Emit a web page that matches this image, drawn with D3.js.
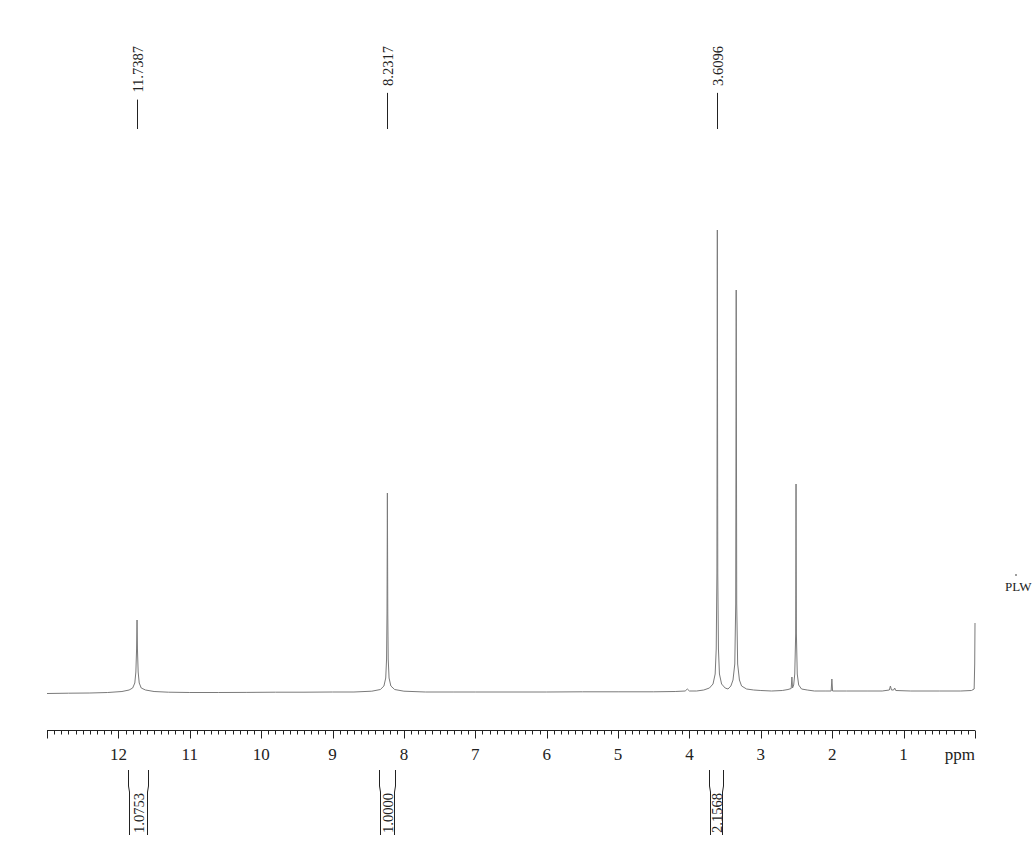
<!DOCTYPE html>
<html>
<head>
<meta charset="utf-8">
<script src="https://cdn.jsdelivr.net/npm/d3@7"></script>
<style>
  html, body { margin: 0; padding: 0; background: #fff; }
  svg { display: block; }
</style>
</head>
<body>
<div id="chart"></div>
<script>
// ---- data ----
const ppmDomain = [13, 0];
const majorTicks = [12, 11, 10, 9, 8, 7, 6, 5, 4, 3, 2, 1];
const axisUnit = "ppm";
const peakLabels = [11.7387, 8.2317, 3.6096];
const integralRegions = [[11.86, 11.59], [8.35, 8.13], [3.73, 3.53]];
const integralValues = ["1.0753", "1.0000", "2.1568"];
// spectrum trace: [ppm, intensity]
const spectrum = [
  [13.00, 0.5], [12.70, 0.8], [12.40, 1], [12.15, 1.5], [11.95, 2.5], [11.85, 4], [11.80, 6],
  [11.77, 11], [11.755, 22], [11.745, 45], [11.7387, 74], [11.733, 45], [11.723, 22], [11.708, 11],
  [11.68, 6], [11.62, 4], [11.50, 2.5], [11.30, 1.8], [11.00, 1.5], [10.60, 1.5], [10.20, 1.6],
  [9.80, 1.8], [9.40, 1.8], [9.00, 2], [8.70, 2], [8.45, 2.8], [8.33, 4.5], [8.28, 8], [8.255, 16],
  [8.243, 35], [8.237, 80], [8.2317, 201], [8.226, 80], [8.220, 35], [8.208, 16], [8.183, 8],
  [8.13, 4.5], [8.00, 2.8], [7.70, 2], [7.30, 2], [7.00, 2], [6.50, 2], [6.00, 2], [5.50, 2.2],
  [5.00, 2.2], [4.50, 2.2], [4.20, 2.5], [4.06, 3], [4.03, 5], [4.00, 3], [3.90, 3], [3.80, 4],
  [3.72, 6], [3.67, 10], [3.64, 20], [3.625, 45], [3.6155, 120], [3.6096, 464], [3.6035, 120],
  [3.594, 45], [3.58, 20], [3.55, 10], [3.50, 6], [3.46, 5], [3.42, 8], [3.39, 14], [3.365, 30],
  [3.352, 90], [3.345, 404], [3.338, 90], [3.325, 30], [3.30, 14], [3.27, 8], [3.20, 5],
  [3.10, 4], [3.00, 3.5], [2.85, 3], [2.70, 3.5], [2.62, 4.5], [2.575, 5.5], [2.565, 17],
  [2.556, 6], [2.54, 9], [2.525, 20], [2.512, 60], [2.507, 210], [2.502, 60], [2.49, 20],
  [2.47, 9], [2.43, 5], [2.35, 4], [2.25, 3], [2.10, 3], [2.015, 3], [2.005, 15], [1.995, 3],
  [1.80, 3], [1.50, 3], [1.30, 3], [1.20, 4], [1.185, 8], [1.17, 4], [1.14, 4], [1.125, 6],
  [1.11, 3.5], [0.90, 3], [0.50, 3], [0.20, 3], [0.05, 3.5], [0.012, 5], [0.004, 30], [0.0, 71]
];
const sideText = "PLW";

// ---- drawing ----
const W = 1034, H = 860;
const svg = d3.select("#chart").append("svg").attr("width", W).attr("height", H);
const serif = "'Liberation Serif', 'Times New Roman', serif";
const ink = "#222";

const x = d3.scaleLinear().domain(ppmDomain).range([47, 975]);
const y = d3.scaleLinear().domain([0, 464]).range([694, 230]);

// spectrum
const line = d3.line().x(d => x(d[0])).y(d => y(d[1]));
svg.append("path").datum(spectrum)
  .attr("d", line)
  .attr("fill", "none")
  .attr("stroke", "#7a7a7a")
  .attr("stroke-width", 1);

// axis
const axisY = 730.5;
const ax = svg.append("g").attr("stroke", ink).attr("stroke-width", 1);
ax.append("line").attr("x1", x(ppmDomain[0])).attr("x2", x(ppmDomain[1]))
  .attr("y1", axisY).attr("y2", axisY);
const minor = d3.range(0, 131).map(i => i / 10);
ax.selectAll("line.minor").data(minor).enter().append("line")
  .attr("class", "minor")
  .attr("x1", d => Math.round(x(d)) + 0.5).attr("x2", d => Math.round(x(d)) + 0.5)
  .attr("y1", axisY).attr("y2", d => (Math.abs(d - Math.round(d)) < 1e-6) ? axisY + 8 : axisY + 4);
svg.selectAll("text.tick").data(majorTicks).enter().append("text")
  .attr("class", "tick")
  .attr("x", d => x(d)).attr("y", 760)
  .attr("text-anchor", "middle")
  .attr("font-family", serif).attr("font-size", 17).attr("fill", ink)
  .text(d => d);
svg.append("text").attr("x", 975).attr("y", 760)
  .attr("text-anchor", "end")
  .attr("font-family", serif).attr("font-size", 17).attr("fill", ink)
  .text(axisUnit);

// peak labels
peakLabels.forEach(p => {
  const px = Math.round(x(p)) + 0.5;
  const t = svg.append("text")
    .attr("transform", `translate(${px + 5},46) rotate(-90)`)
    .attr("text-anchor", "end")
    .attr("font-family", serif).attr("font-size", 14.5).attr("fill", ink)
    .text(p.toFixed(4));
  const len = t.node().getComputedTextLength();
  svg.append("line").attr("x1", px).attr("x2", px)
    .attr("y1", 46 + len + 7).attr("y2", 129)
    .attr("stroke", ink).attr("stroke-width", 1);
});

// integrals
integralRegions.forEach((r, i) => {
  const xl = Math.round(x(r[0])) + 0.5, xr = Math.round(x(r[1])) + 0.5;
  const cx = (xl + xr) / 2;
  const g = svg.append("g");
  g.append("path")
    .attr("d", `M${xl},770 L${xl},786 L${xl + 1},792 L${xl + 1},835`)
    .attr("fill", "none").attr("stroke", ink).attr("stroke-width", 1);
  g.append("path")
    .attr("d", `M${xr},770 L${xr},786 L${xr - 1},792 L${xr - 1},835`)
    .attr("fill", "none").attr("stroke", ink).attr("stroke-width", 1);
  g.append("text")
    .attr("transform", `translate(${cx + 5},813) rotate(-90)`)
    .attr("text-anchor", "middle")
    .attr("font-family", serif).attr("font-size", 14.5).attr("fill", ink)
    .text(integralValues[i]);
});

// side annotation
svg.append("text").attr("x", 1005).attr("y", 591)
  .attr("font-family", serif).attr("font-size", 13).attr("fill", ink)
  .text(sideText);
svg.append("circle").attr("cx", 1016).attr("cy", 575).attr("r", 0.8).attr("fill", ink);
</script>
</body>
</html>
